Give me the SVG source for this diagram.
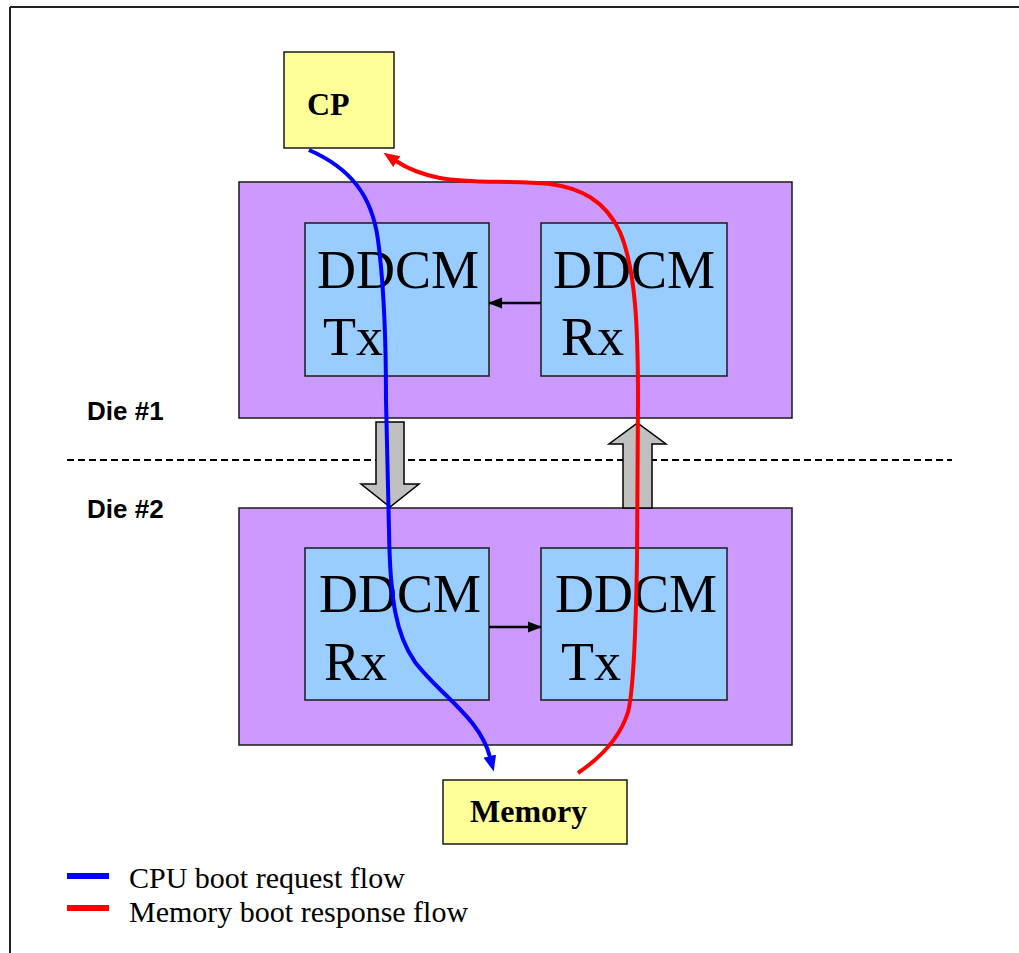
<svg xmlns="http://www.w3.org/2000/svg" width="1019" height="953" viewBox="0 0 1019 953">
<style>
.die{fill:#CC99FF;stroke:#1a1a1a;stroke-width:1.5}
.mod{fill:#99CCFF;stroke:#1a1a1a;stroke-width:1.5}
.ylw{fill:#FFFF99;stroke:#1a1a1a;stroke-width:1.5}
.blk{fill:#C0C0C0;stroke:#000;stroke-width:1.5}
.big{font-family:"Liberation Serif","Times New Roman",serif;font-size:54px;fill:#000}
.bold{font-family:"Liberation Serif","Times New Roman",serif;font-size:32px;font-weight:bold;fill:#000}
.lbl{font-family:"Liberation Sans",Arial,sans-serif;font-size:26px;font-weight:bold;fill:#000}
.leg{font-family:"Liberation Serif","Times New Roman",serif;font-size:30px;fill:#000}
.flow{fill:none;stroke-width:4}
</style>
<defs>
<marker id="ahB" markerUnits="userSpaceOnUse" markerWidth="20" markerHeight="16" viewBox="0 -8 20 16" refX="1" refY="0" orient="auto"><path d="M0,-6.5 L16,0 L0,6.5 z" fill="#0000FF"/></marker>
<marker id="ahR" markerUnits="userSpaceOnUse" markerWidth="20" markerHeight="16" viewBox="0 -8 20 16" refX="1" refY="0" orient="auto"><path d="M0,-6.5 L16,0 L0,6.5 z" fill="#FF0000"/></marker>
<marker id="ahK" markerUnits="userSpaceOnUse" markerWidth="16" markerHeight="14" viewBox="0 -7 16 14" refX="13" refY="0" orient="auto"><path d="M0,-5.5 L14,0 L0,5.5 z" fill="#000"/></marker>
</defs>
<g id="frame" stroke="#222" stroke-width="2" fill="none">
<line x1="10" y1="7" x2="1019" y2="7"/>
<line x1="10" y1="7" x2="10" y2="953"/>
</g>
<g id="die1"><rect class="die" x="239" y="182" width="553" height="236"/></g>
<g id="die2"><rect class="die" x="239" y="508" width="553" height="237"/></g>
<g id="die1-tx"><rect class="mod" x="305" y="223" width="184" height="153"/><text class="big" x="317" y="288">DDCM</text><text class="big" x="323" y="355">Tx</text></g>
<g id="die1-rx"><rect class="mod" x="541" y="223" width="186" height="153"/><text class="big" x="553" y="288">DDCM</text><text class="big" x="561" y="355">Rx</text></g>
<g id="die2-rx"><rect class="mod" x="305" y="548" width="184" height="152"/><text class="big" x="319" y="612">DDCM</text><text class="big" x="324" y="680">Rx</text></g>
<g id="die2-tx"><rect class="mod" x="541" y="548" width="186" height="152"/><text class="big" x="555" y="612">DDCM</text><text class="big" x="561" y="680">Tx</text></g>
<g id="cp"><rect class="ylw" x="284" y="52" width="110" height="96"/><text class="bold" x="307" y="115">CP</text></g>
<g id="memory"><rect class="ylw" x="443" y="780" width="184" height="64"/><text class="bold" x="470" y="822">Memory</text></g>
<g id="labels"><text class="lbl" x="87" y="420">Die #1</text><text class="lbl" x="87" y="518">Die #2</text></g>
<line id="die-boundary" x1="67" y1="460" x2="952" y2="460" stroke="#000" stroke-width="2" stroke-dasharray="7,4"/>
<g id="connectors">
<polygon class="blk" points="376,422 404,422 404,484 419,484 390,507 361,484 376,484"/>
<polygon class="blk" points="623,508 652,508 652,444 666,444 637.5,423 609,444 623,444"/>
<line x1="541" y1="303" x2="489" y2="303" stroke="#000" stroke-width="2.5" marker-end="url(#ahK)"/>
<line x1="489" y1="627" x2="541" y2="627" stroke="#000" stroke-width="2.5" marker-end="url(#ahK)"/>
<path class="flow" stroke="#0000FF" marker-end="url(#ahB)" d="M309,150 C350,168 372,195 378,240 C384,285 386,330 386,400 L389,530 C390,600 396,635 415,662 C440,695 480,718 490,757"/>
<path class="flow" stroke="#FF0000" marker-end="url(#ahR)" d="M578,773 C600,758 620,738 628,712 C634,690 636,620 637,560 L638,400 C638,330 636,270 620,232 C605,200 580,188 550,184 C510,180 470,184 440,178 C420,174 405,167 396,161"/>
</g>
<g id="legend">
<line x1="67" y1="876" x2="109" y2="876" stroke="#0000FF" stroke-width="6"/>
<line x1="67" y1="908" x2="109" y2="908" stroke="#FF0000" stroke-width="6"/>
<text class="leg" x="129" y="888">CPU boot request flow</text>
<text class="leg" x="129" y="922">Memory boot response flow</text>
</g>
</svg>
